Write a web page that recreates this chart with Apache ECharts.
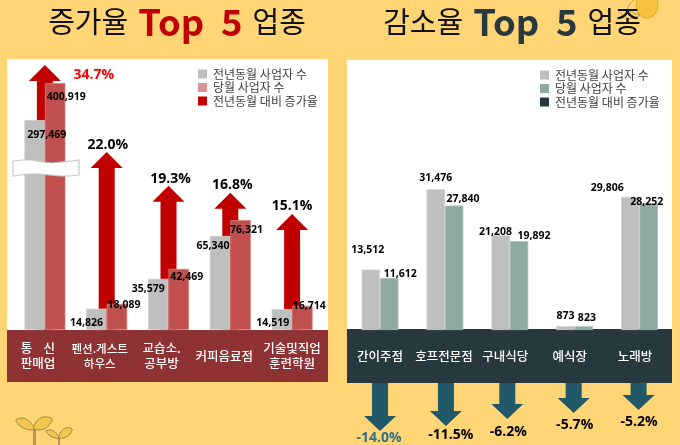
<!DOCTYPE html>
<html><head><meta charset="utf-8">
<style>html,body{margin:0;padding:0;background:#FFD575}#c{width:680px;height:445px}</style>
<script src="https://cdn.jsdelivr.net/npm/echarts@6/dist/echarts.min.js"></script>
</head><body><div id="c"></div>
<script>
const upCategories = ['통    신\n판매업','펜션.게스트\n하우스','교습소.\n공부방','커피음료점','기술및직업\n훈련학원'];
const upPrev = [297469,14826,35579,65340,14519];
const upCurr = [400919,18089,42469,76321,16714];
const upRate = [34.7,22.0,19.3,16.8,15.1];
const downCategories = ['간이주점','호프전문점','구내식당','예식장','노래방'];
const downPrev = [13512,31476,21208,873,29806];
const downCurr = [11612,27840,19892,823,28252];
const downRate = [-14.0,-11.5,-6.2,-5.7,-5.2];
const legendPrev='전년동월 사업자 수', legendCurr='당월 사업자 수', legendRate='전년동월 대비 증가율';

const FONT='"Noto Sans CJK KR","Noto Sans",sans-serif';
const NUM='"Open Sans","Noto Sans",sans-serif';
const upPrevOff=[[12,20],[-10,20],[-10,16],[-7,16],[-9,19]];
const upCurrOff=[[11,20],[7,7],[8,14],[6,15],[7,6]];
const downPrevOff=[[-3,-14],[0,-6],[-5,2],[0,-5],[-23,-3]];
const downCurrOff=[[11,1],[9,-1],[15,0],[3,-3],[-2,4]];
const upRateOff=[[49,10],[1,-7],[2,-7],[2,-8],[0,-8]];
const downRateOff=[[-1,7],[5,9],[1,13],[1,12],[0.5,12]];
const downDx=[0,1,-2.5,-1,-1];
const upCatShift=[14,14,14,12,0];
const downCatShift=[0,2,9,10,9];

const fmt=v=>v.toLocaleString('en-US');
function barSeries(name,vals,offs,color,border,x,y,w){
  return {type:'bar',name,xAxisIndex:x,yAxisIndex:y,barWidth:w,barGap:0,z:3,
    itemStyle:{color,borderColor:border,borderWidth:0.8},
    data:vals.map((v,i)=>({value:v,label:{offset:offs[i]}})),
    label:{show:true,position:'top',distance:0,formatter:p=>fmt(p.value),
      fontFamily:NUM,fontWeight:700,fontSize:10.5,color:'#000'}};
}
function arrow(api,base,tip,dx,dir,shaft,head,hh,color,txt,off,tcolor,fs){
  const x=tip[0]+dx,hy=tip[1]-dir*hh;
  return {type:'group',children:[
    {type:'polygon',shape:{points:[[x-shaft/2,base[1]],[x+shaft/2,base[1]],[x+shaft/2,hy],[x+head/2,hy],[x,tip[1]],[x-head/2,hy],[x-shaft/2,hy]]},style:{fill:color}},
    {type:'text',x:tip[0]+dx+off[0],y:tip[1]+off[1],style:{text:txt,fill:tcolor,font:'700 '+fs+'px '+NUM,textAlign:'center',textVerticalAlign:'middle'}}
  ]};
}
const titleRich=c=>({a:{fontFamily:FONT,fontSize:29,color:'#111',fontWeight:400},
  b:{fontFamily:FONT,fontSize:36.5,fontWeight:700,color:c}});
const legendText={fontFamily:FONT,fontSize:12,color:'#404040',padding:[0,0,0,1]};
const catStyle={verticalAlign:'middle',align:'center',color:'#fff',fontFamily:FONT,fontWeight:500,fontSize:12.5,lineHeight:15};
const catLabels=(names,shift,extra)=>names.map((n,i)=>({value:n,textStyle:{...catStyle,padding:[0,shift[i],0,0],...(extra&&extra[i]||{})}}));

const option={
  backgroundColor:'#FFD575',animation:false,
  title:[
   {text:'{a|증가율}  {b|Top  5}  {a|업종}',left:172,top:-1,textAlign:'center',textStyle:{rich:titleRich('#C00000')}},
   {text:'{a|감소율}  {b|Top  5}  {a|업종}',left:507,top:-1,textAlign:'center',textStyle:{rich:titleRich('#27393F')}}
  ],
  legend:[
   {left:193,top:63,orient:'vertical',itemWidth:9,itemHeight:9,itemGap:1.5,icon:'rect',
    textStyle:legendText,
    data:[{name:legendPrev,itemStyle:{color:'#BFBFBF',borderWidth:0}},{name:legendCurr,itemStyle:{color:'#D99694',borderWidth:0}},{name:legendRate,itemStyle:{color:'#C00000',borderWidth:0}}]},
   {left:535,top:64,orient:'vertical',itemWidth:9,itemHeight:9,itemGap:1.5,icon:'rect',
    textStyle:legendText,
    data:[{name:legendPrev+' ',itemStyle:{color:'#BFBFBF',borderWidth:0}},{name:legendCurr+' ',itemStyle:{color:'#8FAAA3',borderWidth:0}},{name:legendRate+' ',itemStyle:{color:'#27393F',borderWidth:0}}]}
  ],
  grid:[
   {left:14,top:60,width:309,height:270},
   {left:347.6,top:60,width:324.4,height:270},
   {left:347.6,top:383,width:324.4,height:62}
  ],
  xAxis:[
   {type:'category',gridIndex:0,data:catLabels(upCategories,upCatShift,[null,{fontSize:11.5}]),axisTick:{show:false},axisLine:{show:false},
    axisLabel:{interval:0,margin:26,...catStyle}},
   {type:'category',gridIndex:1,data:catLabels(downCategories,downCatShift),axisTick:{show:false},axisLine:{show:false},
    axisLabel:{interval:0,margin:26,...catStyle}},
   {type:'category',gridIndex:2,data:downCategories,show:false}
  ],
  yAxis:[
   {type:'value',gridIndex:0,show:false,min:0,max:416900,splitLine:{show:false},
    breaks:[{start:100000,end:251669,gap:0},{start:310000,end:387750,gap:0}],breakArea:{show:false}},
   {type:'value',gridIndex:0,show:false,min:0,max:35.1,splitLine:{show:false},
    breaks:[{start:2,end:7.82,gap:0},{start:17,end:18.94,gap:0},{start:23,end:28.74,gap:0}],breakArea:{show:false}},
   {type:'value',gridIndex:1,show:false,min:0,max:60400,splitLine:{show:false}},
   {type:'value',gridIndex:2,show:false,inverse:true,min:0,max:15.17,splitLine:{show:false},
    breaks:[{start:1,end:3.95,gap:0},{start:5.4,end:5.65,gap:0},{start:6.5,end:11.22,gap:0},{start:11.7,end:13.78,gap:0}],breakArea:{show:false}}
  ],
  series:[
   {type:'custom',name:legendRate,xAxisIndex:0,yAxisIndex:1,z:2,itemStyle:{color:'#C00000'},
    data:upRate.map((v,i)=>[i,v]),encode:{x:0,y:1},
    renderItem:(p,api)=>{const i=api.value(0),v=api.value(1);
      return arrow(api,api.coord([i,0]),api.coord([i,v]),0,-1,16,32,16,'#C00000',v.toFixed(1)+'%',upRateOff[i],i===0?'#FF0000':'#000',14);}},
   barSeries(legendPrev,upPrev,upPrevOff,'#BFBFBF','#D0D0D0',0,0,20.5),
   barSeries(legendCurr,upCurr,upCurrOff,'#C0504D','#D27C79',0,0,20.5),
   barSeries(legendPrev+' ',downPrev,downPrevOff,'#BFBFBF','#D0D0D0',1,2,18.4),
   barSeries(legendCurr+' ',downCurr,downCurrOff,'#8FAAA3','#A9BDB8',1,2,18.4),
   {type:'custom',name:legendRate+' ',xAxisIndex:2,yAxisIndex:3,z:2,itemStyle:{color:'#27393F'},
    data:downRate.map((v,i)=>[i,-v]),encode:{x:0,y:1},
    renderItem:(p,api)=>{const i=api.value(0),v=api.value(1);
      return arrow(api,api.coord([i,0]),api.coord([i,v]),downDx[i],1,16,32,15,'#215968','-'+v.toFixed(1)+'%',downRateOff[i],i===0?'#31708A':'#000',14);}}
  ],
  graphic:{elements:[
   {type:'rect',z:-1,shape:{x:7,y:59,width:321,height:271},style:{fill:'#fff'}},
   {type:'rect',z:-1,shape:{x:347,y:60,width:325,height:270},style:{fill:'#fff'}},
   {type:'rect',z:-1,shape:{x:7,y:330,width:321,height:52},style:{fill:'#8E3234'}},
   {type:'rect',z:-1,shape:{x:347,y:329,width:325,height:54},style:{fill:'#27393F'}},
   {type:'polygon',z:50,shape:{points:[[13,161],[22,160],[32,160],[42,162],[52,163],[62,162],[72,161],[79,160],[79,175],[70,176],[60,176],[50,175],[40,174],[30,174],[20,175],[13,176]]},style:{fill:'#fff',stroke:'#C8C8C8',lineWidth:1.2}},
   {type:'rect',z:1,shape:{x:33,y:428,width:3,height:17},style:{fill:'#B9955A'}},
   {type:'rect',z:1,shape:{x:58,y:438,width:2,height:7},style:{fill:'#B9955A'}},
   {type:'polygon',z:1,shape:{points:[[34,429],[26,429],[19,425],[16,420],[22,418],[29,421]],smooth:0.4},style:{fill:'#F2C64F',stroke:'#8F7A3C',lineWidth:0.8}},
   {type:'polygon',z:1,shape:{points:[[34,429],[44,429],[49,425],[52,419],[44,417],[37,421]],smooth:0.4},style:{fill:'#F2C64F',stroke:'#8F7A3C',lineWidth:0.8}},
   {type:'polygon',z:1,shape:{points:[[59,438],[52,437],[48,434],[46,431],[51,430],[56,433]],smooth:0.4},style:{fill:'#F2C64F',stroke:'#8F7A3C',lineWidth:0.8}},
   {type:'polygon',z:1,shape:{points:[[59,438],[66,437],[70,434],[72,429],[66,428],[61,432]],smooth:0.4},style:{fill:'#F2C64F',stroke:'#8F7A3C',lineWidth:0.8}},
   {type:'ellipse',z:1,shape:{cx:647,cy:5,rx:11,ry:13},style:{fill:'#F7C23C',stroke:'#E0A82C',lineWidth:1}},
   {type:'bezierCurve',z:1,shape:{x1:640,y1:15,cpx1:630,cpy1:12,cpx2:622,cpy2:10,x2:634,y2:0},style:{fill:'none',stroke:'#A68A3A',lineWidth:0.8}},
   {type:'bezierCurve',z:1,shape:{x1:640,y1:15,cpx1:632,cpy1:22,cpx2:624,cpy2:18,x2:620,y2:12},style:{fill:'none',stroke:'#A68A3A',lineWidth:0.8}}
  ]}
};
const chart=echarts.init(document.getElementById('c'),null,{renderer:'canvas'});
chart.setOption(option);
</script></body></html>
